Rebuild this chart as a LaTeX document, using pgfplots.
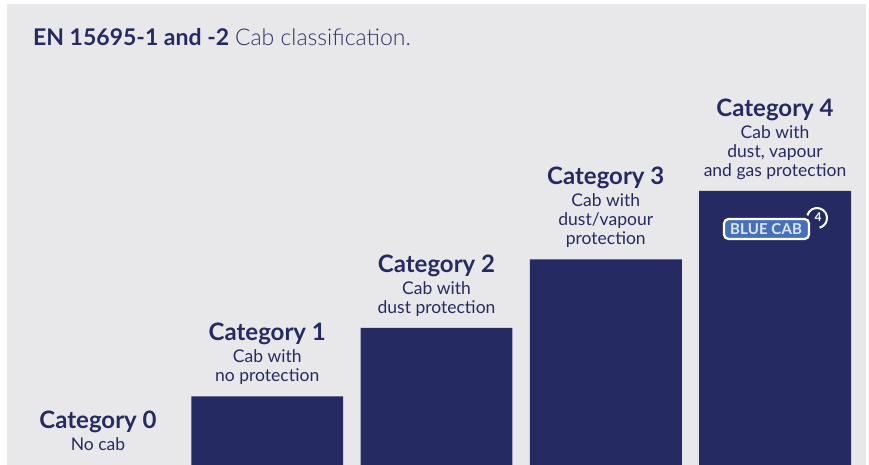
\documentclass[border=0pt]{standalone}
\usepackage{fontspec}
\setmainfont{Lato}
\newfontfamily\lightfont{Lato Light}
\usepackage{pgfplots}
\pgfplotsset{compat=1.18}
\definecolor{navy}{RGB}{37,43,98}
\definecolor{panel}{RGB}{232,232,234}
\definecolor{titlelight}{RGB}{45,51,103}
\definecolor{logoblue}{RGB}{70,112,185}
\definecolor{logotext}{RGB}{220,232,250}
\begin{document}
\begin{tikzpicture}[x=1pt,y=1pt]
\useasboundingbox (0,0) rectangle (869,465);
\fill[white] (0,0) rectangle (869,465);
\fill[panel] (7,0) rectangle (866,461);
\begin{axis}[
  at={(0,0)}, anchor=south west,
  scale only axis, width=869pt, height=465pt,
  xmin=-0.5790, xmax=4.5554, ymin=0, ymax=6.788,
  hide axis, clip=false,
  ybar, bar width=0.898,
]
\addplot[fill=navy, draw=none, restrict y to domain=0.5:10] coordinates {(0,0) (1,1) (2,2) (3,3) (4,4)};
\foreach \i/\v/\t in {0/0/{No cab},
  1/1/{Cab with\\no protection},
  2/2/{Cab with\\dust protection},
  3/3/{Cab with\\dust/vapour\\protection},
  4/4/{Cab with\\dust, vapour\\and gas protection}} {
  \edef\temp{\noexpand\node[anchor=south, align=center, inner sep=0pt, text=navy,
    font=\noexpand\fontsize{17.5}{19}\noexpand\selectfont, yshift=11.5pt]
    at (axis cs:\i,\v) {{\noexpand\fontsize{24}{26}\noexpand\selectfont\noexpand\bfseries Category \i}\noexpand\\[3pt]\unexpanded\expandafter{\t}\noexpand\vphantom{gp}};}
  \temp
}
\end{axis}
\node[anchor=base west, inner sep=0pt, text=navy, font=\fontsize{23}{26}\selectfont] at (33,419)
  {\textbf{EN 15695-1 and -2} {\lightfont\color{titlelight}Cab classification.}};
% logo
\begin{scope}
\draw[white, line width=2pt] (817,247) ++(165:10) arc (165:-75:10);
\node[text=white, font=\fontsize{12}{12}\selectfont\bfseries] at (818,247.5) {4};
\filldraw[fill=logoblue, draw=white, rounded corners=4.5pt, line width=2.2pt]
  (724,226) rectangle (809,246);
\node[text=logotext, font=\fontsize{15}{15}\selectfont\bfseries] at (766,236) {\addfontfeatures{LetterSpace=1}BLUE CAB};
\end{scope}
\end{tikzpicture}
\end{document}
